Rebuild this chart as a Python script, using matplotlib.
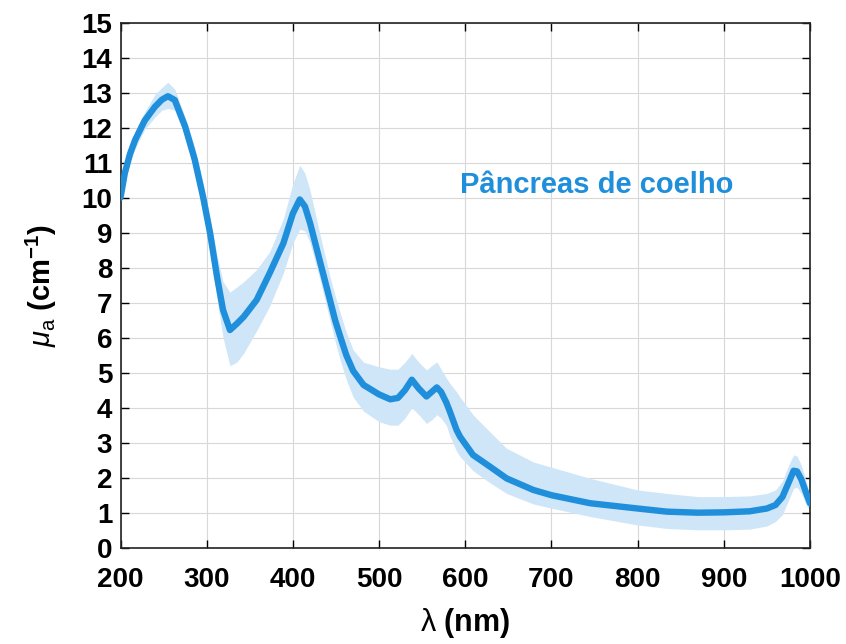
import numpy as np
import matplotlib.pyplot as plt

# mean absorption spectrum and the edges of the spread band
wavelength = [200, 205, 211, 217, 228, 240, 248, 255, 263, 275, 286, 296, 304, 312,
              319, 327, 335, 343, 358, 373, 389, 400, 408, 414, 420, 431, 443, 449,
              455, 462, 470, 482, 500, 513, 522, 530, 538, 546, 555, 561, 567, 572, 578,
              582, 590, 594, 609, 629, 648, 679, 700, 745, 800, 834, 870, 900, 930,
              950, 960, 968, 975, 981, 985, 990, 995, 1000]
mu_a = [10.0, 10.7, 11.25, 11.65, 12.2, 12.6, 12.8, 12.9, 12.79, 12.03, 11.1, 10.0,
        8.98, 7.74, 6.79, 6.22, 6.4, 6.6, 7.08, 7.84, 8.7, 9.55, 9.95, 9.75, 9.27,
        8.22, 7.08, 6.5, 6.03, 5.5, 5.05, 4.65, 4.38, 4.24, 4.28, 4.5, 4.8, 4.55, 4.32,
        4.45, 4.58, 4.45, 4.15, 3.9, 3.36, 3.17, 2.65, 2.31, 1.98, 1.65, 1.5, 1.27,
        1.12, 1.03, 1.0, 1.01, 1.04, 1.12, 1.22, 1.45, 1.85, 2.2, 2.18, 1.95, 1.6, 1.27]
mu_hi = [10.2, 10.9, 11.45, 11.9, 12.45, 12.95, 13.15, 13.3, 13.1, 12.3, 11.45, 10.4,
         9.4, 8.35, 7.6, 7.3, 7.45, 7.6, 7.95, 8.45, 9.4, 10.4, 10.93, 10.7, 10.2,
         9.0, 7.75, 7.2, 6.7, 6.15, 5.65, 5.3, 5.17, 5.1, 5.1, 5.3, 5.55, 5.3, 5.08,
         5.2, 5.31, 5.1, 4.85, 4.7, 4.45, 4.3, 3.8, 3.3, 2.84, 2.45, 2.3, 1.98,
         1.65, 1.55, 1.46, 1.46, 1.48, 1.55, 1.65, 1.9, 2.35, 2.65, 2.62, 2.35, 1.95, 1.5]
mu_lo = [9.85, 10.5, 11.0, 11.4, 11.95, 12.3, 12.5, 12.55, 12.5, 11.75, 10.75, 9.6,
         8.55, 7.1, 6.0, 5.2, 5.3, 5.56, 6.2, 6.9, 7.85, 8.7, 9.1, 9.05, 8.7,
         7.7, 6.5, 5.9, 5.35, 4.8, 4.3, 3.9, 3.6, 3.5, 3.5, 3.7, 4.0, 3.8, 3.55,
         3.65, 3.8, 3.7, 3.5, 3.2, 2.75, 2.6, 2.2, 1.85, 1.55, 1.25, 1.13, 0.89,
         0.65, 0.55, 0.51, 0.51, 0.53, 0.62, 0.75, 0.95, 1.35, 1.7, 1.72, 1.55, 1.25, 1.05]

xticks = np.arange(200, 1001, 100)
yticks = np.arange(0, 16, 1)

line_color = '#1f8fdc'
band_color = '#cfe6f8'

plt.rcParams['font.family'] = ['Liberation Sans', 'DejaVu Sans']
plt.rcParams['mathtext.fontset'] = 'custom'
plt.rcParams['mathtext.rm'] = 'Liberation Sans'
plt.rcParams['mathtext.it'] = 'Liberation Sans:italic'
plt.rcParams['mathtext.bf'] = 'Liberation Sans:bold'

fig = plt.figure(figsize=(8.46, 6.44), dpi=100)
ax = fig.add_axes([120.5 / 846, 1 - 547.7 / 644, (810 - 120.5) / 846, (547.7 - 22.7) / 644])

ax.fill_between(wavelength, mu_lo, mu_hi, color=band_color, linewidth=0, zorder=2)
ax.plot(wavelength, mu_a, color=line_color, linewidth=4.6, solid_capstyle='round',
        solid_joinstyle='round', zorder=3)

ax.set_xlim(200, 1000)
ax.set_ylim(0, 15)
ax.set_xticks(xticks)
ax.set_yticks(yticks)
ax.tick_params(direction='in', top=True, right=True, length=6, width=1,
               labelsize=20)
ax.tick_params(axis='x', pad=14)
ax.tick_params(axis='y', pad=6)
for lbl in ax.get_xticklabels() + ax.get_yticklabels():
    lbl.set_fontweight('bold')
ax.grid(True, color='#d8d8d8', linewidth=0.8, zorder=0)
ax.set_axisbelow(True)
for sp in ax.spines.values():
    sp.set_linewidth(1.2)
    sp.set_color('#222222')

ax.set_xlabel(r'$\mathrm{\lambda}$ (nm)', fontsize=22, fontweight='bold', labelpad=9)
ax.set_ylabel(r'$\mu_{\mathrm{a}}$ (cm$^{\mathbf{-1}}$)', fontsize=21,
              fontweight='bold', labelpad=16)

ax.text(753, 10.36, 'Pâncreas de coelho', color=line_color, fontsize=21,
        fontweight='bold', ha='center', va='center')

fig.savefig('out.png', dpi=100)
